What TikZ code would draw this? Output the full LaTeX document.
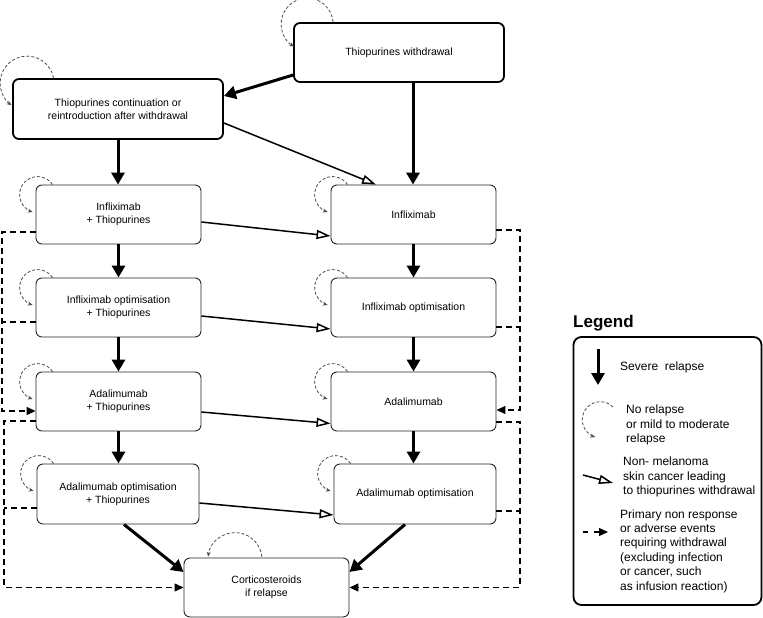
\documentclass[tikz,border=0pt]{standalone}
\usepackage{fontspec}
\setmainfont{Liberation Sans}
\usetikzlibrary{arrows.meta}
\begin{document}
\begin{tikzpicture}[x=1pt,y=1pt,
  box/.style={draw=black!85, line width=0.9pt, rounded corners=6pt, minimum width=165pt, minimum height=59pt, align=center, font=\fontsize{10.5}{13}\selectfont, inner sep=0pt},
  bigbox/.style={box, line width=1.8pt, draw=black, minimum width=210pt},
  severe/.style={line width=3pt, -{Triangle[length=12pt,width=13pt]}},
  nmsc/.style={line width=1.5pt, -{Triangle[open,length=14pt,width=9pt,fill=white]}},
  dashline/.style={line width=1.3pt, dash pattern=on 6pt off 4pt},
  dasharrow/.style={dashline, -{Triangle[length=9pt,width=8pt]}},
  selfloop/.style={black!70, line width=0.8pt, dash pattern=on 3pt off 2pt, -{Stealth[length=5pt,width=4pt]}},
  legtext/.style={anchor=west, align=left, font=\fontsize{12}{14.4}\selectfont, inner sep=0pt}
]
\useasboundingbox (0,0) rectangle (763,-618);

% boxes
\node[bigbox, minimum height=59pt] (tw) at (399,-52.5) {Thiopurines withdrawal};
\node[bigbox, minimum height=60pt] (tc) at (118,-109) {Thiopurines continuation or\\reintroduction after withdrawal};
\node[box] (ift) at (118.5,-214.5) {Infliximab\\+ Thiopurines};
\node[box] (iot) at (118.5,-307.5) {Infliximab optimisation\\+ Thiopurines};
\node[box] (if) at (413.5,-214.5) {Infliximab};
\node[box] (io) at (413.5,-307.5) {Infliximab optimisation};
\node[box] (at) at (118.5,-401.5) {Adalimumab\\+ Thiopurines};
\node[box, minimum width=162pt, minimum height=60pt] (aot) at (118,-494) {Adalimumab optimisation\\+ Thiopurines};
\node[box] (a) at (413.5,-401.5) {Adalimumab};
\node[box, minimum width=162pt, minimum height=60pt] (ao) at (415,-494) {Adalimumab optimisation};
\node[box] (cs) at (266.5,-587.5) {Corticosteroids\\if relapse};

% severe relapse arrows
\draw[severe] ([yshift=-22.5]tw.west) -- ([yshift=13]tc.east);
\draw[severe] ([xshift=14]tw.south) -- ([xshift=14]tw.south |- if.north);
\draw[severe] (tc.south) -- (tc.south |- ift.north);
\draw[severe] (ift.south) -- (iot.north);
\draw[severe] (iot.south) -- (at.north);
\draw[severe] (at.south) -- (at.south |- aot.north);
\draw[severe] (if.south) -- (io.north);
\draw[severe] (io.south) -- (a.north);
\draw[severe] (a.south) -- (a.south |- ao.north);
\draw[severe] ([xshift=6]aot.south) -- ([yshift=15.5]cs.west);
\draw[severe] ([xshift=-10]ao.south) -- ([yshift=15.5]cs.east);

% non-melanoma skin cancer arrows
\draw[nmsc] ([yshift=-14]tc.east) -- ([xshift=-37.5]if.north);
\draw[nmsc] ([yshift=-7.5]ift.east) -- ([yshift=-21.5]if.west);
\draw[nmsc] ([yshift=-8.5]iot.east) -- ([yshift=-21.5]io.west);
\draw[nmsc] ([yshift=-10.5]at.east) -- ([yshift=-22]a.west);
\draw[nmsc] ([yshift=-9]aot.east) -- ([yshift=-21]ao.west);

% self loops
\draw[selfloop] ([xshift=40]tw.north west) arc[start angle=4.4, end angle=240, radius=26];
\draw[selfloop] ([xshift=41.5]tc.north west) arc[start angle=10.7, end angle=235, radius=27];
\foreach \n in {ift,iot,if,io,at,aot,a,ao}{
  \draw[selfloop] ([xshift=17]\n.north west) arc[start angle=34, end angle=254, radius=18];
}
\draw[selfloop] ([shift={(-4.6,0.8)}]cs.north) arc[start angle=6, end angle=174, radius=27];

% dashed withdrawal routes
\coordinate (lxa) at (2,0);
\coordinate (lxb) at (4,0);
\coordinate (rx) at (520,0);
\coordinate (d1) at ([yshift=-17.5]ift.west);
\coordinate (d2) at ([yshift=-14.5]iot.west);
\coordinate (d3) at ([yshift=-9.5]at.west);
\coordinate (d4) at ([yshift=-19.5]at.west);
\coordinate (d5) at ([yshift=-14]aot.west);
\draw[dasharrow] (d1) -- (d1 -| lxa) |- (d3);
\draw[dashline] (d2) -- (d2 -| lxa);
\draw[dasharrow] (d4) -- (d4 -| lxb) |- (cs.west);
\draw[dashline] (d5) -- (d5 -| lxb);
\coordinate (e1) at ([yshift=-15.5]if.east);
\coordinate (e2) at ([yshift=-19.5]io.east);
\coordinate (e3) at ([yshift=-8.5]a.east);
\coordinate (e4) at ([yshift=-20.5]a.east);
\coordinate (e5) at ([yshift=-17]ao.east);
\draw[dasharrow] (e1) -- (e1 -| rx) |- (e3);
\draw[dashline] (e2) -- (e2 -| rx);
\draw[dasharrow] (e4) -- (e4 -| rx) |- (cs.east);
\draw[dashline] (e5) -- (e5 -| rx);

% legend
\node[anchor=west, font=\fontsize{17}{20}\bfseries\selectfont, inner sep=0pt] (legtitle) at (573,-323) {Legend};
\node[draw, line width=1.8pt, rounded corners=8pt, minimum width=188pt, minimum height=268pt, inner sep=0pt] (legbox) at (667.5,-471) {};
\coordinate (ls1) at (598,-349);
\coordinate (ls2) at (598,-385);
\draw[severe] (ls1) -- (ls2);
\node[legtext] (lt1) at (620,-367) {Severe\ \ relapse};
\coordinate (ll1) at (613,-407);
\draw[selfloop] (ll1) arc[start angle=45, end angle=254, radius=18];
\node[legtext] (lt2) at (626,-425) {No relapse\\or mild to moderate\\relapse};
\coordinate (ln1) at (583,-475);
\coordinate (ln2) at (613,-483);
\draw[nmsc] (ln1) -- (ln2);
\node[legtext] (lt3) at (623,-477) {Non- melanoma\\skin cancer leading\\to thiopurines withdrawal};
\coordinate (lp1) at (583,-532);
\coordinate (lp2) at (608,-532);
\draw[dasharrow, dash pattern=on 5pt off 6pt] (lp1) -- (lp2);
\node[legtext] (lt4) at (620,-551) {Primary non response\\or adverse events\\requiring withdrawal\\(excluding infection\\or cancer, such\\as infusion reaction)};
\end{tikzpicture}
\end{document}
